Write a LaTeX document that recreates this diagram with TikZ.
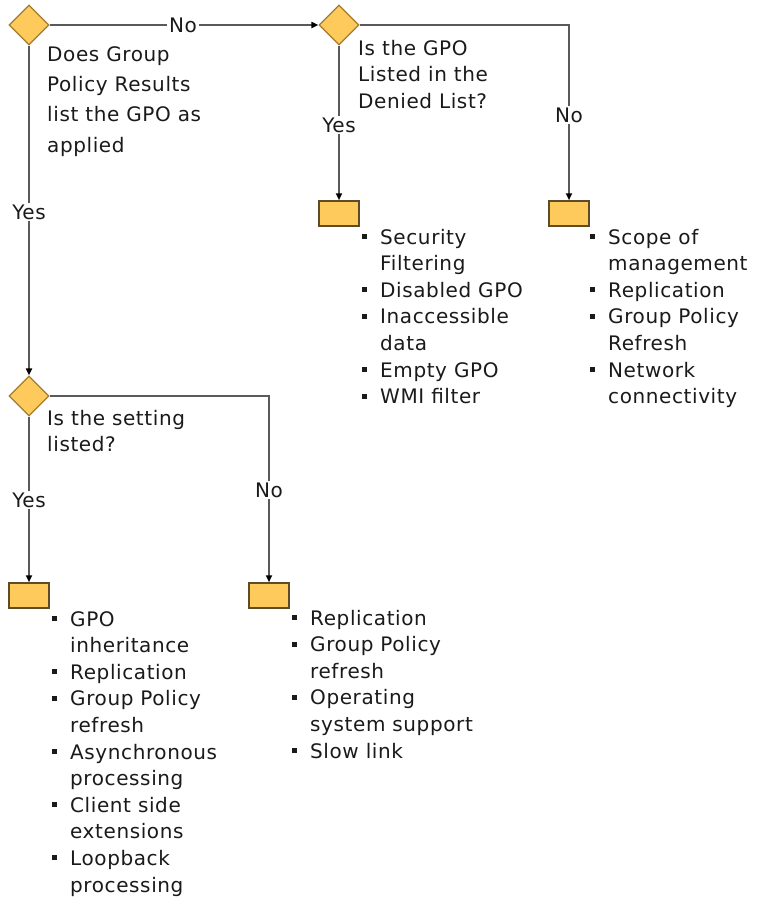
\documentclass[tikz,border=0pt]{standalone}
\usepackage{fontspec}
\setmainfont{DejaVu Sans}[LetterSpace=3]
\usetikzlibrary{shapes.geometric,arrows.meta}
\definecolor{gold}{HTML}{FFCA5C}
\definecolor{golddark}{HTML}{A07D30}
\definecolor{boxdark}{HTML}{5E4C28}
\definecolor{linegray}{HTML}{5A5A5A}
\definecolor{txt}{HTML}{1A1A1A}
\newcommand{\bul}{\makebox[18pt][l]{\rule[5pt]{5pt}{5pt}}}
\newcommand{\ind}{\hspace*{18pt}}
\tikzset{
  dec/.style={diamond,draw=golddark,fill=gold,line width=1.2pt,inner sep=0pt,minimum width=40pt,minimum height=40pt},
  endbox/.style={rectangle,draw=boxdark,fill=gold,line width=1.5pt,inner sep=0pt,minimum width=40pt,minimum height=25pt},
  conn/.style={draw=linegray,line width=2pt,-{Triangle[length=7pt,width=6pt,color=black]}},
  lbl/.style={fill=white,inner sep=2pt,text=txt,font=\fontsize{20}{24}\selectfont},
  qtext/.style={anchor=base west,inner sep=0pt,align=left,text=txt},
  ltext/.style={anchor=base west,inner sep=0pt,align=left,text=txt,font=\fontsize{20}{26.6}\selectfont}
}
\begin{document}
\begin{tikzpicture}[x=1pt,y=-1pt]
\useasboundingbox (0,0) rectangle (757,899);
% decisions
\node[dec] (d1) at (29,25) {};
\node[dec] (d2) at (339,25) {};
\node[dec] (d3) at (29,396) {};
% result boxes
\node[endbox] (b2) at (339,213.5) {};
\node[endbox] (b3) at (569,213.5) {};
\node[endbox] (b4) at (29,595.5) {};
\node[endbox] (b5) at (269,595.5) {};
\coordinate (c2) at (569,25);
\coordinate (c3) at (269,396);
% connectors
\draw[conn] (d1.east) -- (d2.west);
\draw[conn] (d2.east) -- (c2) -- (b3.north);
\draw[conn] (d2.south) -- (b2.north);
\draw[conn] (d1.south) -- (d3.north);
\draw[conn] (d3.east) -- (c3) -- (b5.north);
\draw[conn] (d3.south) -- (b4.north);
% labels
\node[lbl] (l1) at (183,25) {No};
\node[lbl] (l2) at (569,115) {No};
\node[lbl] (l3) at (339,125) {Yes};
\node[lbl] (l4) at (29,212) {Yes};
\node[lbl] (l5) at (269,490) {No};
\node[lbl] (l6) at (29,500) {Yes};
% questions (base anchor = baseline of last line)
\node[qtext,font=\fontsize{20}{30.4}\selectfont] (q1) at (47,152.2) {Does Group\\Policy Results\\list the GPO as\\applied};
\node[qtext,font=\fontsize{20}{26.5}\selectfont] (q2) at (358,108) {Is the GPO\\Listed in the\\Denied List?};
\node[qtext,font=\fontsize{20}{26.5}\selectfont] (q3) at (47,451.5) {Is the setting\\listed?};
% lists
\node[ltext] (t2) at (362,403.6) {\bul Security\\\ind Filtering\\\bul Disabled GPO\\\bul Inaccessible\\\ind data\\\bul Empty GPO\\\bul WMI filter};
\node[ltext] (t3) at (590,403.6) {\bul Scope of\\\ind management\\\bul Replication\\\bul Group Policy\\\ind Refresh\\\bul Network\\\ind connectivity};
\node[ltext] (t4) at (52,892) {\bul GPO\\\ind inheritance\\\bul Replication\\\bul Group Policy\\\ind refresh\\\bul Asynchronous\\\ind processing\\\bul Client side\\\ind extensions\\\bul Loopback\\\ind processing};
\node[ltext] (t5) at (292,758) {\bul Replication\\\bul Group Policy\\\ind refresh\\\bul Operating\\\ind system support\\\bul Slow link};
\end{tikzpicture}
\end{document}
